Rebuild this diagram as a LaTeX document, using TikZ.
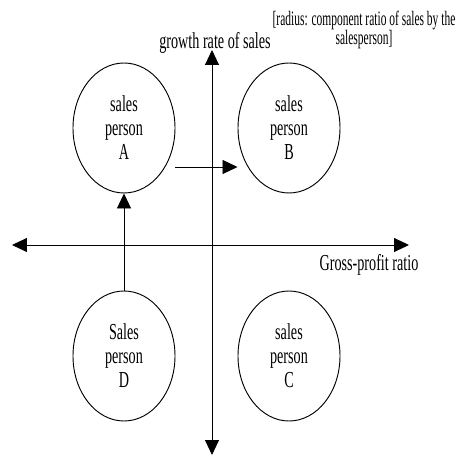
\documentclass[tikz,border=0pt]{standalone}
\usepackage{fontspec}
\setmainfont{Liberation Serif}[FakeStretch=0.62]
\newfontfamily\narrowfont{Liberation Serif}[FakeStretch=0.56]
\usetikzlibrary{shapes.geometric,arrows.meta}

\begin{document}
\begin{tikzpicture}[x=0.03cm,y=0.03cm,line width=0.8pt,
		axisline/.style={{Triangle[length=0.45cm,width=0.42cm]}-{Triangle[length=0.45cm,width=0.42cm]}},
		flow/.style={-{Triangle[length=0.45cm,width=0.42cm]}},
		person/.style={draw,ellipse,inner sep=0pt,minimum width=3.06cm,minimum height=3.9cm,
			align=center,font=\fontsize{19.5}{20.5}\selectfont},
		caption/.style={font=\fontsize{19.5}{20.5}\selectfont,inner sep=0pt}]
				\useasboundingbox (-212,-211) rectangle (245,245);
				
				% axes
				\coordinate (W) at (-200,0);
				\coordinate (E) at (197,0);
				\coordinate (N) at (0,195);
				\coordinate (S) at (0,-210);
				\draw[axisline] (W) -- (E);
				\draw[axisline] (S) -- (N);
				
				% salespersons
				\foreach \x/\y/\z/\t in
				{-88/117/A/{sales\\person\\A}, 77/117/B/{sales\\person\\B},
				 77/-111/C/{sales\\person\\C}, -88/-111/D/{Sales\\person\\D}}{
					\node[person] (\z) at (\x,\y) {\t};
				}
				
				% moves
				\draw[flow] ([yshift=-1.17cm]A.east) -- ([yshift=-1.17cm]B.west);
				\draw[flow] (D.north) -- (A.south);
				
				% labels
				\node[caption] (growth) at (3,202) {growth rate of sales};
				\node[caption] (profit) at (157,-20) {Gross-profit ratio};
				\node[caption,align=center,font=\narrowfont\fontsize{17.5}{17}\selectfont] (radius) at (152,215)
					{[radius: component ratio of sales by the\\salesperson]};
			\end{tikzpicture}
\end{document}
